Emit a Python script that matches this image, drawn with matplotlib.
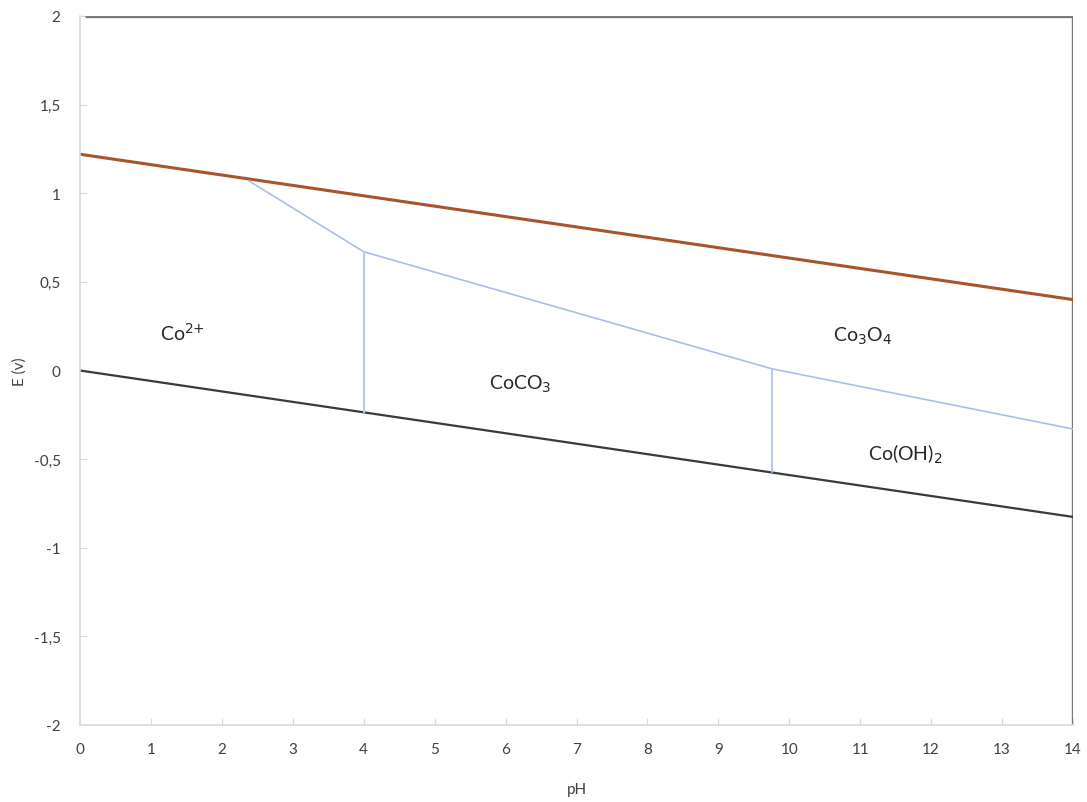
import matplotlib
matplotlib.use("Agg")
import matplotlib.pyplot as plt
from matplotlib.ticker import FixedLocator

plt.rcParams['font.family'] = ['Lato', 'DejaVu Sans']

# Data
ph_water_upper = [0, 14]
e_water_upper = [1.22, 0.40]
ph_water_lower = [0, 14]
e_water_lower = [0.0, -0.826]

ph_boundary = [2.38, 4.0, 9.75, 14.0]
e_boundary = [1.07, 0.67, 0.01, -0.33]

ph_vert1 = [4.0, 4.0]
e_vert1 = [0.67, -0.236]
ph_vert2 = [9.75, 9.75]
e_vert2 = [0.01, -0.575]

ph_frame_top = [0.07, 14]
e_frame_top = [2, 2]
ph_frame_right = [14, 14]
e_frame_right = [2, -2]

x_ticks = list(range(0, 15))
y_ticks = [2, 1.5, 1, 0.5, 0, -0.5, -1, -1.5, -2]
y_tick_labels = ["2", "1,5", "1", "0,5", "0", "-0,5", "-1", "-1,5", "-2"]

labels = [
    ("Co$^{2{+}}$", 1.45, 0.22),
    ("CoCO$_3$", 6.2, -0.07),
    ("Co$_3$O$_4$", 11.03, 0.2),
    ("Co(OH)$_2$", 11.63, -0.47),
]

fig = plt.figure(figsize=(10.87, 8.03), dpi=100)
ax = fig.add_axes([80/1087, 1-726/803, (1073-80)/1087, (726-17)/803])

ax.plot(ph_frame_top, e_frame_top, color="#7a7a7a", lw=2.4, solid_capstyle="butt")
ax.plot(ph_frame_right, e_frame_right, color="#7a7a7a", lw=2.4, solid_capstyle="butt")
ax.plot(ph_water_upper, e_water_upper, color="#a8552c", lw=2.2)
ax.plot(ph_water_lower, e_water_lower, color="#3a3a3a", lw=1.6)
ax.plot(ph_boundary, e_boundary, color="#a9bfe8", lw=1.2)
ax.plot(ph_vert1, e_vert1, color="#b8caec", lw=1.6)
ax.plot(ph_vert2, e_vert2, color="#a9bfe8", lw=1.2)

for txt, x, y in labels:
    ax.text(x, y, txt, fontsize=14, color="#262626", ha="center", va="center")

ax.set_xlim(0, 14)
ax.set_ylim(-2, 2)
ax.xaxis.set_major_locator(FixedLocator(x_ticks))
ax.set_xticklabels([str(t) for t in x_ticks])
ax.yaxis.set_major_locator(FixedLocator(y_ticks))
ax.set_yticklabels(y_tick_labels)

for s in ["top", "right"]:
    ax.spines[s].set_visible(False)
for s in ["left", "bottom"]:
    ax.spines[s].set_color("#d9d9d9")
    ax.spines[s].set_linewidth(1.2)

ax.tick_params(axis="both", direction="in", length=5, color="#d9d9d9",
               labelcolor="#404040", labelsize=11)
ax.tick_params(axis="x", pad=12)
ax.tick_params(axis="y", pad=14)

ax.set_xlabel("pH", fontsize=11, color="#404040", va="center")
ax.set_ylabel("E (v)", fontsize=11, color="#404040", va="center")
ax.xaxis.set_label_coords(0.5, -(790 - 726) / 709)
ax.yaxis.set_label_coords((20 - 80) / 993, 0.5)

fig.savefig("out.png", dpi=100)
